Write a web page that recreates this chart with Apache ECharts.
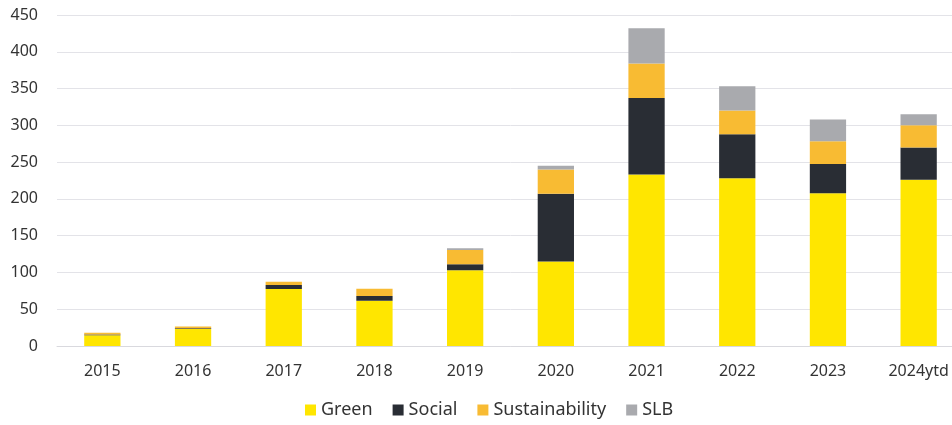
<!DOCTYPE html>
<html>
<head>
<meta charset="utf-8">
<style>
  html, body { margin: 0; padding: 0; background: #fff; overflow: hidden; width: 952px; height: 425px; }
  /* plot area runs slightly past the right edge of the page */
  #chart { width: 964px; height: 425px; }
</style>
<script src="https://cdn.jsdelivr.net/npm/echarts@6/dist/echarts.min.js"></script>
</head>
<body>
<div id="chart"></div>
<script>
// Annual issuance by label type
const years = ['2015', '2016', '2017', '2018', '2019', '2020', '2021', '2022', '2023', '2024ytd'];
const green = [14.5, 23, 77.5, 61.5, 103, 115, 233, 228, 207.5, 226];
const social = [1, 1, 5.5, 6.5, 8, 92, 104, 60, 40, 44];
const sustainability = [2.5, 2.5, 4.5, 10, 19.5, 33, 47, 32, 31, 30];
const slb = [0, 0, 0, 0, 2.5, 5, 48, 33, 29.5, 15];
const yTicks = { min: 0, max: 450, step: 50 };

const colors = {
  Green: '#FFE600',
  Social: '#292D34',
  Sustainability: '#F8BB33',
  SLB: '#A9AAAE'
};

const font = 'Noto Sans, sans-serif';
const textColor = '#333333';

function bar(name, values) {
  return {
    name: name,
    type: 'bar',
    stack: 'total',
    data: values,
    barWidth: '40%',
    itemStyle: { color: colors[name] }
  };
}

const chart = echarts.init(document.getElementById('chart'), null, { renderer: 'canvas' });
chart.setOption({
  animation: false,
  backgroundColor: '#ffffff',
  grid: { left: 57, right: 0, top: 15, bottom: 79, containLabel: false },
  legend: {
    left: 300,
    top: 396,
    itemWidth: 11,
    itemHeight: 11,
    itemGap: 20,
    icon: 'rect',
    textStyle: { fontFamily: font, fontSize: 18, color: textColor },
    data: ['Green', 'Social', 'Sustainability', 'SLB']
  },
  xAxis: {
    type: 'category',
    data: years,
    axisLine: { show: true, lineStyle: { color: '#D9D9DE', width: 1 } },
    axisTick: { show: false },
    axisLabel: { fontFamily: font, fontSize: 16, color: textColor, margin: 17 }
  },
  yAxis: {
    type: 'value',
    min: yTicks.min,
    max: yTicks.max,
    interval: yTicks.step,
    axisLine: { show: false },
    axisTick: { show: false },
    splitLine: { lineStyle: { color: '#E3E3E8', width: 1 } },
    axisLabel: { fontFamily: font, fontSize: 16, color: textColor, margin: 19 }
  },
  series: [
    bar('Green', green),
    bar('Social', social),
    bar('Sustainability', sustainability),
    bar('SLB', slb)
  ]
});
</script>
</body>
</html>
